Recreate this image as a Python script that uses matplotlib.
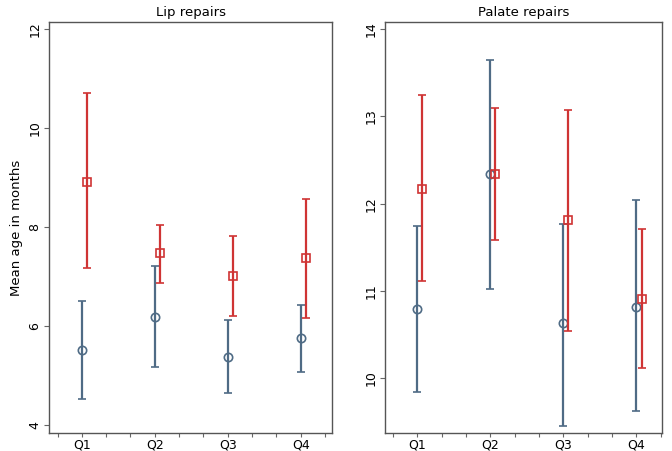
import matplotlib
matplotlib.use("Agg")
import matplotlib.pyplot as plt
import numpy as np

quarters = ["Q1", "Q2", "Q3", "Q4"]
xpos = np.array([1, 2, 3, 4])

# Lip repairs
lip_blue_mean = [5.52, 6.18, 5.38, 5.76]
lip_blue_low = [4.52, 5.18, 4.65, 5.08]
lip_blue_high = [6.50, 7.22, 6.13, 6.43]
lip_red_mean = [8.91, 7.48, 7.01, 7.37]
lip_red_low = [7.17, 6.87, 6.21, 6.16]
lip_red_high = [10.70, 8.05, 7.82, 8.56]

# Palate repairs
pal_blue_mean = [10.79, 12.34, 10.63, 10.82]
pal_blue_low = [9.85, 11.02, 9.46, 9.63]
pal_blue_high = [11.74, 13.64, 11.77, 12.04]
pal_red_mean = [12.17, 12.34, 11.81, 10.91]
pal_red_low = [11.11, 11.59, 10.54, 10.12]
pal_red_high = [13.24, 13.09, 13.07, 11.71]

BLUE = "#4f6b85"
RED = "#cf3434"
SPINE = "#555555"

fig = plt.figure(figsize=(6.72, 4.51), dpi=100)
W, H = 672, 451
ax1 = fig.add_axes([49 / W, 1 - 433 / H, (332 - 49) / W, (433 - 22) / H])
ax2 = fig.add_axes([385 / W, 1 - 433 / H, (662 - 385) / W, (433 - 22) / H])


def draw(ax, bm, bl, bh, rm, rl, rh, offset_b, offset_r):
    bm, bl, bh = map(np.array, (bm, bl, bh))
    rm, rl, rh = map(np.array, (rm, rl, rh))
    ax.errorbar(xpos + offset_b, bm, yerr=[bm - bl, bh - bm], fmt="o", color=BLUE,
                mfc="none", mec=BLUE, ms=6, mew=1.2, elinewidth=1.6, capsize=3,
                capthick=1.2, zorder=3)
    ax.errorbar(xpos + offset_r, rm, yerr=[rm - rl, rh - rm], fmt="s", color=RED,
                mfc="none", mec=RED, ms=6, mew=1.2, elinewidth=1.6, capsize=3,
                capthick=1.2, zorder=4)
    ticks = np.arange(2, 14) / 3.0
    ax.set_xticks(ticks)
    labels = []
    for t in ticks:
        r = round(t)
        labels.append(quarters[r - 1] if abs(t - r) < 1e-6 and 1 <= r <= 4 else "")
    ax.set_xticklabels(labels)
    ax.tick_params(axis="x", length=3, width=0.8, color="#666666", labelsize=9, pad=1)
    ax.tick_params(axis="y", length=3.5, width=0.8, color="#666666", labelsize=9, pad=2)
    for s in ax.spines.values():
        s.set_color(SPINE)
        s.set_linewidth(1.0)


draw(ax1, lip_blue_mean, lip_blue_low, lip_blue_high,
     lip_red_mean, lip_red_low, lip_red_high, 0.0, 0.07)
ax1.set_xlim(0.55, 4.43)
ax1.set_ylim(3.84, 12.14)
ax1.set_yticks([4, 6, 8, 10, 12])
for lab in ax1.get_yticklabels():
    lab.set_rotation(90)
    lab.set_va("center")
ax1.set_title("Lip repairs", fontsize=9.5, pad=4)
ax1.set_ylabel("Mean age in months", fontsize=9.5, labelpad=4)

draw(ax2, pal_blue_mean, pal_blue_low, pal_blue_high,
     pal_red_mean, pal_red_low, pal_red_high, 0.0, 0.07)
ax2.set_xlim(0.56, 4.35)
ax2.set_ylim(9.375, 14.08)
ax2.set_yticks([10, 11, 12, 13, 14])
for lab in ax2.get_yticklabels():
    lab.set_rotation(90)
    lab.set_va("center")
ax2.set_title("Palate repairs", fontsize=9.5, pad=4)

fig.savefig("out.png", dpi=100)
